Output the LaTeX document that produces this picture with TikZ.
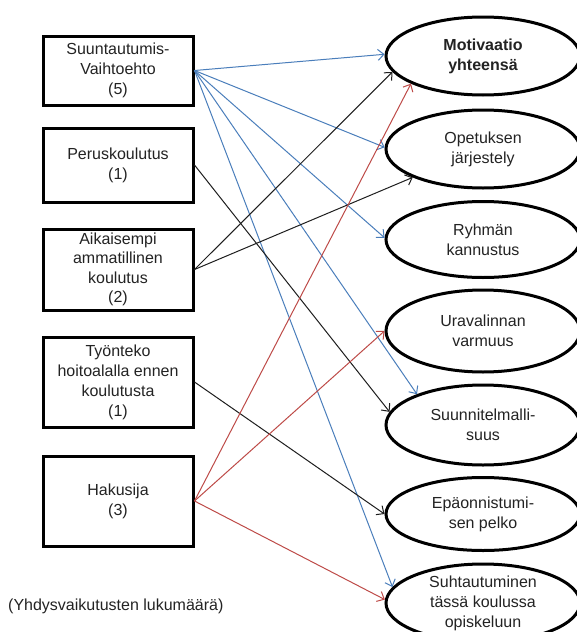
\documentclass[tikz,border=0pt]{standalone}
\usepackage{fontspec}
\setmainfont{Liberation Sans}
\usetikzlibrary{shapes.geometric,arrows.meta}
\definecolor{cblue}{RGB}{74,126,187}
\definecolor{cred}{RGB}{190,75,72}
\definecolor{ctext}{RGB}{35,35,35}
\definecolor{cblack}{RGB}{30,30,30}
\begin{document}
\begin{tikzpicture}[x=1pt,y=-1pt,
  lbl/.style={text=ctext,font=\fontsize{16}{20}\selectfont},
  box/.style={lbl,draw=black,line width=3pt,minimum width=150pt,inner sep=0pt,align=center},
  ell/.style={lbl,draw=black,ellipse,line width=3pt,minimum width=194pt,inner sep=0pt,align=center},
  con/.style={line width=1pt,cblack,-{Straight Barb[length=6pt,width=11pt]}}]
\clip (0,0) rectangle (577,632);
\fill[white] (0,0) rectangle (577,632);
% boxes
\node[box,minimum height=69pt] (b1) at (118,70.5) {Suuntautumis-\\Vaihtoehto\\(5)};
\node[box,minimum height=74pt] (b2) at (118,165) {Peruskoulutus\\(1)};
\node[box,minimum height=81pt,font=\fontsize{16}{19.3}\selectfont] (b3) at (118,269.5) {Aikaisempi\\ammatillinen\\koulutus\\(2)};
\node[box,minimum height=90pt] (b4) at (118,382) {Työnteko\\hoitoalalla ennen\\koulutusta\\(1)};
\node[box,minimum height=90pt] (b5) at (118,501) {Hakusija\\(3)};
% ellipses
\node[ell,minimum height=78pt] (e1) at (483,56) {\textbf{Motivaatio}\\\textbf{yhteensä}};
\node[ell,minimum height=78pt] (e2) at (483,149) {Opetuksen\\järjestely};
\node[ell,minimum height=76pt] (e3) at (483,239.5) {Ryhmän\\kannustus};
\node[ell,minimum height=82pt] (e4) at (483,331) {Uravalinnan\\varmuus};
\node[ell,minimum height=80pt] (e5) at (483,425) {Suunnitelmalli-\\suus};
\node[ell,minimum height=73pt] (e6) at (483,514) {Epäonnistumi-\\sen pelko};
\node[ell,minimum height=78pt] (e7) at (483,603) {Suhtautuminen\\tässä koulussa\\opiskeluun};
% note
\node[lbl,anchor=west,inner sep=0pt] (note) at (8,606) {(Yhdysvaikutusten lukumäärä)};
% connectors
\draw[con,cblue] (b1.east) -- (e1.179);
\draw[con,cblue] (b1.east) -- (e2.179);
\draw[con,cblue] (b1.east) -- (e3.179);
\draw[con,cblue] (b1.east) -- (e5.155);
\draw[con,cblue] (b1.east) -- (e7.170);
\draw[con] (b2.east) -- (e5.172);
\draw[con] (b3.east) -- (e1.190);
\draw[con] (b3.east) -- (e2.202);
\draw[con] (b4.east) -- (e6.180);
\draw[con,cred] (b5.east) -- (e1.201);
\draw[con,cred] (b5.east) -- (e4.180);
\draw[con,cred] (b5.east) -- (e7.178);
\end{tikzpicture}
\end{document}
